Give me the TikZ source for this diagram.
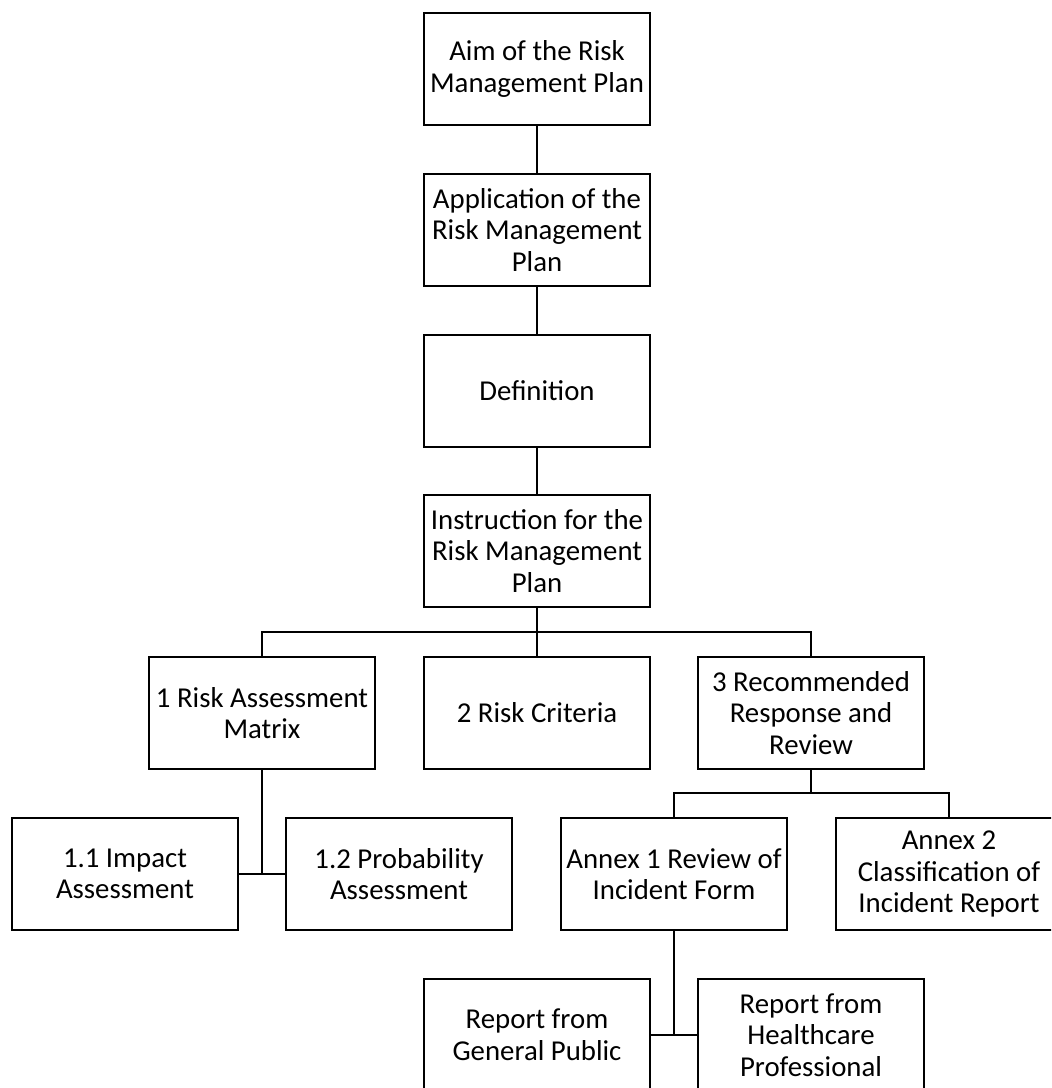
\documentclass[tikz,border=0pt]{standalone}
\usepackage{fontspec}
\setmainfont{Carlito}
\usepackage{tikz}

\tikzset{
  plan/.style={draw, line width=1.5pt, minimum width=170pt, minimum height=84.5pt,
    inner sep=0pt, align=center, font=\fontsize{21.6}{23.7}\selectfont},
  link/.style={line width=1.5pt}
}

\begin{document}
\begin{tikzpicture}[x=0.75pt,y=-0.75pt]
    \path[use as bounding box, clip] (0,0) rectangle (1051,1088);
    % main line
    \node[plan] (aim)   at (537,69)  {Aim of the Risk\\Management Plan};
    \node[plan] (app)   at (537,230) {Application of the\\Risk Management\\Plan};
    \node[plan] (def)   at (537,391) {Definition};
    \node[plan] (instr) at (537,551) {Instruction for the\\Risk Management\\Plan};
    % three parts
    \node[plan] (ram)  at (262,713) {1 Risk Assessment\\Matrix};
    \node[plan] (crit) at (537,713) {2 Risk Criteria};
    \node[plan] (resp) at (811,713) {3 Recommended\\Response and\\Review};
    % sub-items
    \node[plan] (impact) at (125,874) {1.1 Impact\\Assessment};
    \node[plan] (prob)   at (399,874) {1.2 Probability\\Assessment};
    \node[plan] (annexa) at (674,874) {Annex 1 Review of\\Incident Form};
    \node[plan] (annexb) at (949,874) {Annex 2\\Classification of\\Incident Report};
    \node[plan] (pub) at (537,1035) {Report from\\General Public};
    \node[plan] (hcp) at (811,1035) {Report from\\Healthcare\\Professional};
    \coordinate (forka) at (537,632);
    \coordinate (forkb) at (811,793);
    \draw[link] (aim) -- (app);
    \draw[link] (app) -- (def);
    \draw[link] (def) -- (instr);
    \draw[link] (instr) -- (crit);
    \draw[link] (ram.north) |- (forka) -| (resp.north);
    \draw[link] (resp) -- (forkb);
    \draw[link] (annexa.north) |- (forkb) -| (annexb.north);
    \draw[link] (ram.south) -- (ram.south |- prob.west);
    \draw[link] (impact.east) -- (prob.west);
    \draw[link] (annexa.south) -- (annexa.south |- pub.east);
    \draw[link] (pub.east) -- (hcp.west);
\end{tikzpicture}
\end{document}
